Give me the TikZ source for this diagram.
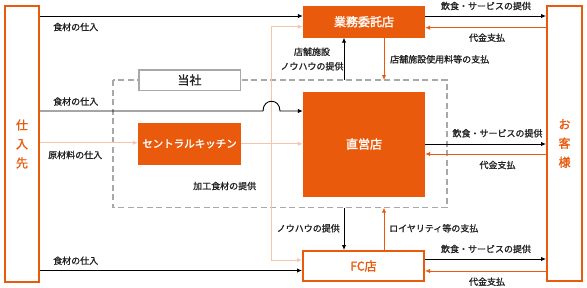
\documentclass[tikz,border=0pt]{standalone}
\usepackage{fontspec}
\setmainfont{Noto Sans CJK JP}
\newfontfamily\lblfont{Noto Sans CJK JP}[FakeBold=1.2]
\newfontfamily\boxfont{Noto Sans CJK JP}[FakeBold=1.8]
\usetikzlibrary{arrows.meta}
\definecolor{org}{HTML}{E95A0C}
\definecolor{pnk}{HTML}{F5C4AC}
\definecolor{gry}{HTML}{A8A8A8}
\definecolor{txt}{HTML}{222222}
\tikzset{
  fillbox/.style={fill=org,draw=none,text=white,font=\boxfont\fontsize{12}{14}\selectfont,inner sep=0pt},
  linebox/.style={draw=org,line width=2.4pt,fill=white,text=org,font=\lblfont\fontsize{12}{14}\selectfont,inner sep=0pt},
  lbl/.style={text=txt,font=\lblfont\fontsize{9}{11}\selectfont,inner sep=0pt},
  blk/.style={draw=black,line width=0.9pt,-{Latex[length=5pt,width=4.5pt]}},
  oar/.style={draw=org,line width=0.9pt,-{Latex[length=5pt,width=4.5pt]}},
  par/.style={draw=pnk,line width=0.9pt,-{Latex[length=5pt,width=4.5pt]}},
}
\begin{document}
\begin{tikzpicture}[x=1pt,y=-1pt]
\useasboundingbox (0,0) rectangle (587,287);
% dashed company area
\draw[gry,dashed,dash pattern=on 6pt off 3.5pt,line width=1.2pt] (113,80) rectangle (447,207.7);
% nodes
\node[linebox,minimum width=33.6pt,minimum height=275.6pt,align=center,font=\lblfont\fontsize{12}{19}\selectfont] (sup) at (22,144) {仕\\入\\先};
\node[linebox,minimum width=34.6pt,minimum height=274.6pt,align=center,font=\lblfont\fontsize{12}{19}\selectfont] (cus) at (564.5,143.5) {お\\客\\様};
\node[fillbox,minimum width=122pt,minimum height=31.5pt] (gyo) at (364,21.75) {業務委託店};
\node[fillbox,minimum width=122pt,minimum height=105pt] (cho) at (364,144) {直営店};
\node[linebox,minimum width=120.6pt,minimum height=29.6pt,font=\boxfont\fontsize{12}{14}\selectfont] (fc) at (363.5,266) {FC店};
\node[fillbox,minimum width=103pt,minimum height=42.3pt,font=\boxfont\fontsize{10.5}{12}\selectfont] (ck) at (189.5,143.8) {セントラルキッチン};
\node[draw=gry,line width=1.5pt,fill=white,minimum width=101.5pt,minimum height=20.5pt,inner sep=0pt,text=txt,font=\lblfont\fontsize{12}{14}\selectfont] (tou) at (189.5,80) {当社};
% helper coordinates
\coordinate (pt) at (271,26.7);
\coordinate (pb) at (271,260);
\coordinate (dt1) at (344,80);
\coordinate (dt2) at (384,80);
\coordinate (db1) at (344,207.7);
\coordinate (db2) at (384,207.7);
\coordinate (j1) at (263,111);
\coordinate (j2) at (280,111);
% pink flows
\draw[par] (sup.east |- 0,142.7) -- (ck.west |- 0,142.7);
\draw[par] (ck.east |- 0,143.8) -- (cho.west |- 0,143.8);
\draw[par] (pt) -- (pb) -- (fc.west |- pb);
\draw[par] (pt) -- (gyo.west |- pt);
% black supply
\draw[blk] (sup.east |- 0,16) -- (gyo.west |- 0,16);
\draw[blk] (sup.east |- j1) -- (j1) .. controls (263,98) and (280,98) .. (j2) -- (cho.west |- j2);
\draw[blk] (sup.east |- 0,270.5) -- (fc.west |- 0,270.5);
% vertical flows
\draw[blk] (dt1) -- (gyo.south -| dt1);
\draw[oar] (gyo.south -| dt2) -- (dt2);
\draw[blk] (db1) -- (fc.north -| db1);
\draw[oar] (fc.north -| db2) -- (db2);
% customer flows
\draw[blk] (gyo.east |- 0,16) -- (cus.west |- 0,16);
\draw[oar] (cus.west |- 0,27.7) -- (gyo.east |- 0,27.7);
\draw[blk] (cho.east |- 0,144) -- (cus.west |- 0,144);
\draw[oar] (cus.west |- 0,154) -- (cho.east |- 0,154);
\draw[blk] (fc.east |- 0,259) -- (cus.west |- 0,259);
\draw[oar] (cus.west |- 0,271) -- (fc.east |- 0,271);
% labels
\node[lbl,anchor=west] (l1) at (53,27) {食材の仕入};
\node[lbl,anchor=west] (l2) at (53,101.5) {食材の仕入};
\node[lbl,anchor=west] (l3) at (48,155) {原材料の仕入};
\node[lbl,anchor=west] (l4) at (53,260.7) {食材の仕入};
\node[lbl,anchor=west] (l5) at (193,186) {加工食材の提供};
\node[lbl,align=center,font=\lblfont\fontsize{9}{14.5}\selectfont] (l6) at (312,59) {店舗施設\\ノウハウの提供};
\node[lbl,anchor=west] (l7) at (390,59.3) {店舗施設使用料等の支払};
\node[lbl,anchor=east] (l8) at (340,228.3) {ノウハウの提供};
\node[lbl,anchor=west] (l9) at (389,228.3) {ロイヤリティ等の支払};
\node[lbl] (r1) at (486,6) {飲食・サービスの提供};
\node[lbl] (r2) at (487,37.7) {代金支払};
\node[lbl] (r3) at (497.5,133.3) {飲食・サービスの提供};
\node[lbl] (r4) at (497.5,165) {代金支払};
\node[lbl] (r5) at (486,249) {飲食・サービスの提供};
\node[lbl] (r6) at (487,281.7) {代金支払};
\end{tikzpicture}
\end{document}
